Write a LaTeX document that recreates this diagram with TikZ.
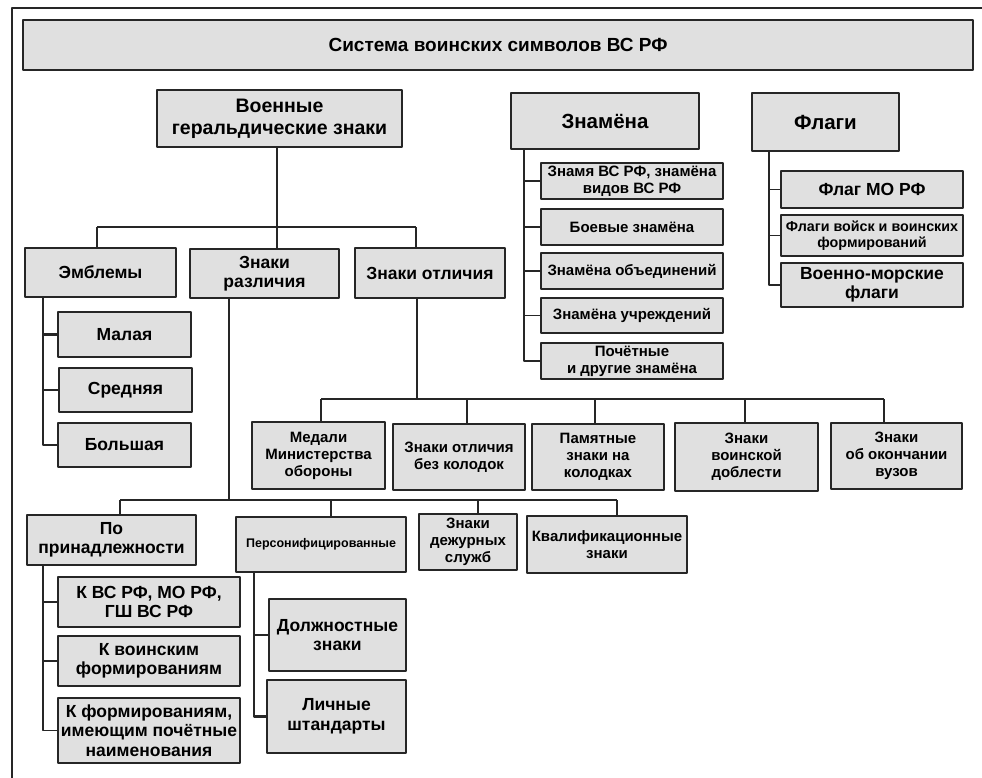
\documentclass[tikz,border=0pt]{standalone}
\usepackage{fontspec}
\setmainfont{Liberation Sans}
\definecolor{boxgray}{gray}{0.88}
\tikzset{
 box/.style={draw=black!85, fill=boxgray, line width=1.2pt, align=center, inner sep=1pt},
 headbox/.style={box, font=\fontsize{20.5}{23}\selectfont\bfseries},
 mainbox/.style={box, font=\fontsize{17.5}{19.5}\selectfont\bfseries},
 smallbox/.style={box, font=\fontsize{15}{17}\selectfont\bfseries},
 tinybox/.style={box, font=\fontsize{12.5}{15}\selectfont\bfseries},
 link/.style={draw=black!85, line width=1.2pt},
 heavy/.style={line width=2.6pt}
}
\begin{document}
\begin{tikzpicture}[x=1pt,y=-1pt,line join=round]
 \useasboundingbox (0,0) rectangle (982,778);
 % frame
 \draw[link] (12,778) -- (12,8) -- (982,8);
 \node[headbox, font=\fontsize{19}{22}\selectfont\bfseries, minimum width=950, minimum height=50] (title) at (498,45) {Система воинских символов ВС РФ};

 % heraldic signs
 \node[headbox, font=\fontsize{19.5}{22}\selectfont\bfseries, minimum width=245, minimum height=57] (voen) at (279.5,118.5) {Военные\\геральдические знаки};
 \node[mainbox, minimum width=151, minimum height=49] (emb) at (100.5,272.5) {Эмблемы};
 \node[mainbox, minimum width=149, minimum height=49] (razl) at (264.5,273.5) {Знаки\\различия};
 \node[mainbox, minimum width=150, minimum height=50] (otl) at (430,273) {Знаки отличия};

 \node[mainbox, minimum width=133, minimum height=45] (small) at (124.5,334.5) {Малая};
 \node[mainbox, minimum width=133, minimum height=44] (middle) at (125.5,390) {Средняя};
 \node[mainbox, minimum width=133, minimum height=44] (large) at (124.5,445) {Большая};

 % banners
 \node[headbox, minimum width=188, minimum height=56] (znam) at (605,121) {Знамёна};
 \node[smallbox, minimum width=182, minimum height=36] (zn1) at (632,181) {Знамя ВС РФ, знамёна\\видов ВС РФ};
 \node[smallbox, minimum width=182, minimum height=36] (zn2) at (632,227) {Боевые знамёна};
 \node[smallbox, minimum width=182, minimum height=36] (zn3) at (632,271) {Знамёна объединений};
 \node[smallbox, minimum width=182, minimum height=35] (zn4) at (632,315.5) {Знамёна учреждений};
 \node[smallbox, minimum width=182, minimum height=36] (zn5) at (632,361) {Почётные\\и другие знамёна};

 % flags
 \node[headbox, minimum width=147, minimum height=58] (flag) at (825.5,122) {Флаги};
 \node[mainbox, minimum width=182, minimum height=37] (fl1) at (872,189.5) {Флаг МО РФ};
 \node[tinybox, font=\fontsize{14.3}{16.5}\selectfont\bfseries, minimum width=182, minimum height=41] (fl2) at (872,235.5) {Флаги войск и воинских\\формирований};
 \node[mainbox, minimum width=182, minimum height=44] (fl3) at (872,285) {Военно-морские\\флаги};

 % distinctions
 \node[smallbox, minimum width=133, minimum height=67] (med) at (318.5,455.5) {Медали\\Министерства\\обороны};
 \node[smallbox, minimum width=132, minimum height=66] (bez) at (459,457) {Знаки отличия\\без колодок};
 \node[smallbox, minimum width=132, minimum height=66] (pam) at (598,457) {Памятные\\знаки на\\колодках};
 \node[smallbox, minimum width=143, minimum height=68] (dobl) at (746.5,457) {Знаки\\воинской\\доблести};
 \node[smallbox, minimum width=131, minimum height=66] (vuz) at (896.5,456) {Знаки\\об окончании\\вузов};

 % insignia
 \node[mainbox, minimum width=169, minimum height=50] (prin) at (111.5,540) {По\\принадлежности};
 \node[tinybox, minimum width=170, minimum height=55] (pers) at (321,544.5) {Персонифицированные};
 \node[smallbox, minimum width=98, minimum height=56] (dezh) at (468,542) {Знаки\\дежурных\\служб};
 \node[smallbox, minimum width=160, minimum height=57] (kval) at (607,544.5) {Квалификационные\\знаки};

 \node[mainbox, minimum width=182, minimum height=50] (k1) at (149,602) {К ВС РФ, МО РФ,\\ГШ ВС РФ};
 \node[mainbox, minimum width=182, minimum height=50] (k2) at (149,661) {К воинским\\формированиям};
 \node[mainbox, minimum width=182, minimum height=65] (k3) at (149,730.5) {К формированиям,\\имеющим почётные\\наименования};
 \node[mainbox, minimum width=137, minimum height=72] (dolzh) at (337.5,635) {Должностные\\знаки};
 \node[mainbox, minimum width=139, minimum height=73] (lich) at (336.5,716.5) {Личные\\штандарты};

 % connectors
 \coordinate (busA) at (277,227);
 \coordinate (a1) at (97,227);
 \coordinate (a3) at (416,227);
 \draw[link] (voen.south -| busA) -- (busA);
 \draw[link] (a1) -- (a3);
 \draw[link,heavy] (a1) -- (a1 |- emb.north);
 \draw[link] (busA) -- (busA |- razl.north);
 \draw[link] (a3) -- (a3 |- otl.north);

 \coordinate (embL) at (43,297);
 \draw[link,heavy] (embL) |- (small.west);
 \draw[link] (embL) |- (middle.west);
 \draw[link,heavy] (embL) |- (large.west);
 \draw[link] (embL) -- (embL |- large.west);

 \coordinate (znL) at (524,149);
 \draw[link] (znL) |- (zn1.west);
 \draw[link,heavy] (znL) |- (zn2.west);
 \draw[link] (znL) |- (zn3.west);
 \draw[link] (znL) |- (zn4.west);
 \draw[link] (znL) |- (zn5.west);

 \coordinate (flL) at (769,151);
 \draw[link] (flL) |- (fl1.west);
 \draw[link] (flL) |- (fl2.west);
 \draw[link] (flL) |- (fl3.west);

 \coordinate (busB) at (417,399);
 \coordinate (b1) at (321,399);
 \coordinate (b2) at (467,399);
 \coordinate (b3) at (595,399);
 \coordinate (b4) at (745,399);
 \coordinate (b5) at (884,399);
 \draw[link] (otl.south -| busB) -- (busB);
 \draw[link] (b1) -- (b5);
 \draw[link,heavy] (b1) -- (b1 |- med.north);
 \draw[link] (b2) -- (b2 |- bez.north);
 \draw[link,heavy] (b3) -- (b3 |- pam.north);
 \draw[link] (b4) -- (b4 |- dobl.north);
 \draw[link] (b5) -- (b5 |- vuz.north);

 \coordinate (busC) at (229,500);
 \coordinate (c1) at (120,500);
 \coordinate (c2) at (331,500);
 \coordinate (c3) at (478,500);
 \coordinate (c4) at (617,500);
 \draw[link] (razl.south -| busC) -- (busC);
 \draw[link] (c1) -- (c4);
 \draw[link] (c1) -- (c1 |- prin.north);
 \draw[link] (c2) -- (c2 |- pers.north);
 \draw[link] (c3) -- (c3 |- dezh.north);
 \draw[link] (c4) -- (c4 |- kval.north);

 \coordinate (prL) at (43,565);
 \draw[link] (prL) |- (k1.west);
 \draw[link] (prL) |- (k2.west);
 \draw[link] (prL) |- (k3.west);

 \coordinate (peL) at (254,572);
 \draw[link,heavy] (peL) |- (dolzh.west);
 \draw[link,heavy] (peL) |- (lich.west);
\end{tikzpicture}
\end{document}
